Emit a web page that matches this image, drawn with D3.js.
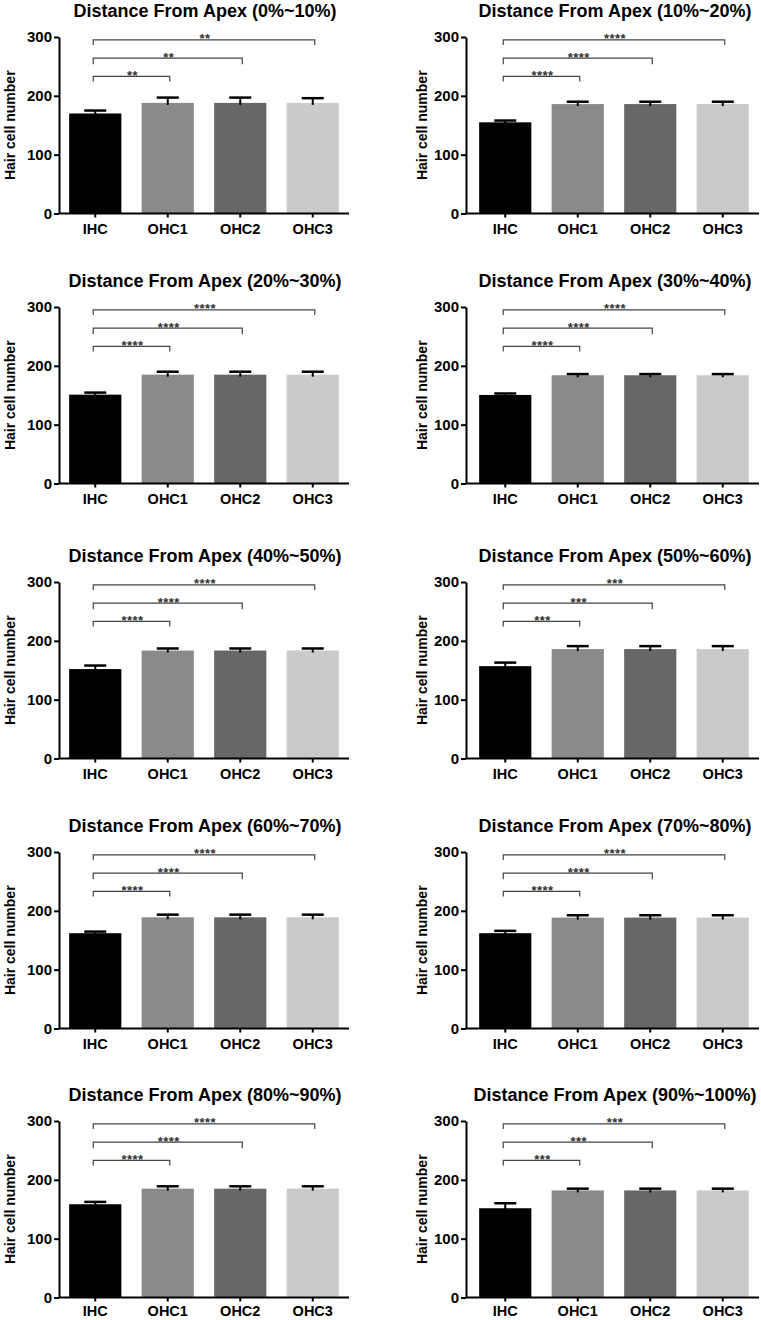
<!DOCTYPE html>
<html>
<head>
<meta charset="utf-8">
<script src="https://cdn.jsdelivr.net/npm/d3@7"></script>
<style>
  html, body { margin: 0; padding: 0; background: #fff; }
  svg { display: block; }
  text { font-family: Arial, "Liberation Sans", sans-serif; }
</style>
</head>
<body>
<svg id="chart" width="761" height="1320"></svg>
<script>
// ---------------- data ----------------
const categories = ["IHC", "OHC1", "OHC2", "OHC3"];
const titles = [
  "Distance From Apex (0%~10%)", "Distance From Apex (10%~20%)",
  "Distance From Apex (20%~30%)", "Distance From Apex (30%~40%)",
  "Distance From Apex (40%~50%)", "Distance From Apex (50%~60%)",
  "Distance From Apex (60%~70%)", "Distance From Apex (70%~80%)",
  "Distance From Apex (80%~90%)", "Distance From Apex (90%~100%)"
];
const means = [
  [170, 188, 188, 188],
  [155, 186, 186, 186],
  [151, 185, 185, 185],
  [150.5, 184, 184, 184],
  [152, 183.5, 183.5, 183.5],
  [157, 186, 186, 186],
  [162, 189, 189, 189],
  [162, 188.5, 188.5, 188.5],
  [158.5, 185, 185, 185],
  [151.7, 182, 182, 182]
];
const errors = [
  [5, 9, 9, 8],
  [3, 4, 4, 4],
  [3.5, 5, 5, 5],
  [2.5, 2, 2, 2],
  [6, 3.5, 3.5, 3.5],
  [6, 5, 5, 5],
  [2.7, 4.5, 4.5, 4.5],
  [4, 4, 4, 4],
  [4, 4, 4, 4],
  [8.5, 3, 3, 3]
];
const stars = ["**", "****", "****", "****", "****", "***", "****", "****", "****", "***"];
const comparisons = ["OHC1", "OHC2", "OHC3"];
const bracketLevels = [233, 264, 295];
const yTicks = [0, 100, 200, 300];
const barColors = ["#000000", "#8a8a8a", "#676767", "#cacaca"];
const yLabel = "Hair cell number";

// ---------------- layout ----------------
const colAxisX = [59, 466];
const colBandStart = [59, 469];
const colLabelX = [10, 422];
const rowTop = [37, 307, 582, 852, 1121];
const plotH = 176.5;
const step = 72.5;

const svg = d3.select("#chart");

titles.forEach((title, i) => {
  const col = i % 2, row = Math.floor(i / 2);
  const top = rowTop[row];
  const bottom = top + plotH;
  const axisX = colAxisX[col];
  const r0 = colBandStart[col];
  const r1 = r0 + step * 4;

  const x = d3.scaleBand().domain(categories).range([r0, r1])
    .paddingInner(0.28).paddingOuter(0.14);
  const y = d3.scaleLinear().domain([0, 300]).range([bottom, top]);

  const g = svg.append("g");

  // title
  g.append("text")
    .attr("x", (r0 + r1) / 2 + 1)
    .attr("y", top - 20)
    .attr("text-anchor", "middle")
    .attr("font-size", 18)
    .attr("font-weight", "bold")
    .attr("fill", "#000")
    .text(title);

  // y label
  g.append("text")
    .attr("transform", `translate(${colLabelX[col]},${(top + bottom) / 2}) rotate(-90)`)
    .attr("text-anchor", "middle")
    .attr("dy", "0.35em")
    .attr("font-size", 14)
    .attr("font-weight", "bold")
    .text(yLabel);

  // bars
  g.selectAll("rect.bar").data(categories).enter().append("rect")
    .attr("class", "bar")
    .attr("x", d => x(d))
    .attr("width", x.bandwidth())
    .attr("y", (d, j) => y(means[i][j]))
    .attr("height", (d, j) => bottom - y(means[i][j]))
    .attr("fill", (d, j) => barColors[j]);

  // error bars (upper)
  const capW = 22;
  categories.forEach((c, j) => {
    const cx = x(c) + x.bandwidth() / 2;
    g.append("line")
      .attr("x1", cx).attr("x2", cx)
      .attr("y1", y(means[i][j]) + 2).attr("y2", y(means[i][j] + errors[i][j]))
      .attr("stroke", "#000").attr("stroke-width", 2);
    g.append("line")
      .attr("x1", cx - capW / 2).attr("x2", cx + capW / 2)
      .attr("y1", y(means[i][j] + errors[i][j])).attr("y2", y(means[i][j] + errors[i][j]))
      .attr("stroke", "#000").attr("stroke-width", 2.5);
  });

  // significance brackets
  const x0c = x("IHC") + x.bandwidth() / 2;
  comparisons.forEach((c, k) => {
    const x1c = x(c) + x.bandwidth() / 2 + 2;
    const ly = y(bracketLevels[k]);
    const drop = k === 1 ? 6 : 5;
    g.append("path")
      .attr("d", `M${x0c - 2},${ly + drop}V${ly}H${x1c}V${ly + drop}`)
      .attr("fill", "none")
      .attr("stroke", "#444")
      .attr("stroke-width", 1.2);
    g.append("text")
      .attr("x", (x0c + x1c) / 2)
      .attr("y", ly + 3.5)
      .attr("text-anchor", "middle")
      .attr("font-size", 13)
      .attr("font-weight", "bold")
      .attr("letter-spacing", 0.5)
      .attr("fill", "#333")
      .text(stars[i]);
  });

  // y axis
  const ya = g.append("g")
    .attr("transform", `translate(${axisX},0)`)
    .call(d3.axisLeft(y).tickValues(yTicks).tickSize(5).tickPadding(2).tickSizeOuter(0));
  ya.select(".domain").attr("stroke-width", 2);
  ya.selectAll(".tick line").attr("stroke-width", 2);
  ya.selectAll(".tick text")
    .attr("font-size", 15).attr("font-weight", "bold").attr("fill", "#000")
    .attr("font-family", "Arial, 'Liberation Sans', sans-serif");

  // x axis
  const xa = g.append("g")
    .attr("transform", `translate(0,${bottom})`)
    .call(d3.axisBottom(x).tickSize(4).tickPadding(row === 4 ? 4 : 6).tickSizeOuter(0));
  xa.select(".domain").attr("d", `M${axisX},0H${r1}`).attr("stroke-width", 2);
  xa.selectAll(".tick line").attr("stroke-width", 2);
  xa.selectAll(".tick text")
    .attr("font-size", 14.5).attr("font-weight", "bold").attr("fill", "#000")
    .attr("font-family", "Arial, 'Liberation Sans', sans-serif");
});
</script>
</body>
</html>
